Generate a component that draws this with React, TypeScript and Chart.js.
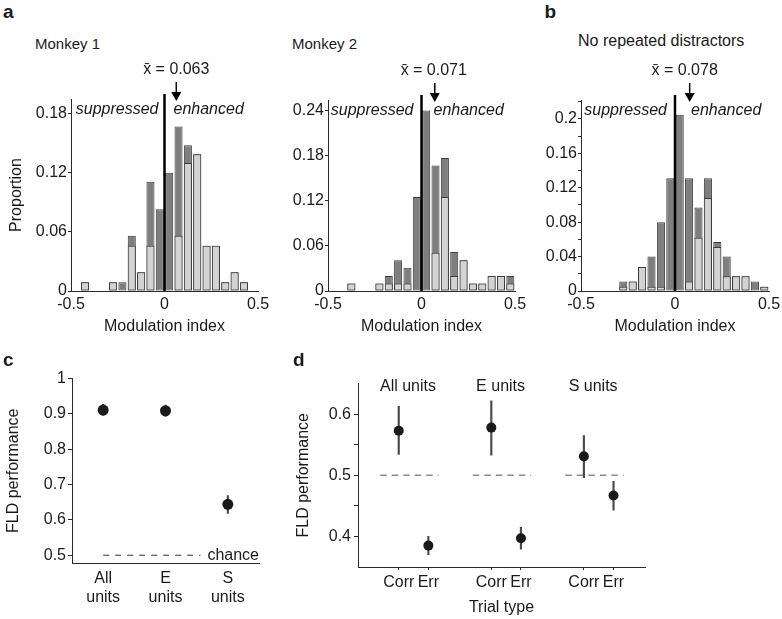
import React, { useEffect, useRef } from 'react';
import { Chart, registerables } from 'chart.js';

Chart.register(...registerables);

const FONT = '"Liberation Sans", Arial, Helvetica, sans-serif';
Chart.defaults.font.family = FONT;
Chart.defaults.font.size = 16;
Chart.defaults.color = '#1a1a1a';

// ---------------- data ----------------
// histogram bin centres (bin width 0.05)
const binCenters = [-0.475, -0.425, -0.375, -0.325, -0.275, -0.225, -0.175, -0.125, -0.075, -0.025,
  0.025, 0.075, 0.125, 0.175, 0.225, 0.275, 0.325, 0.375, 0.425, 0.475];
const histXTicks = [-0.5, 0, 0.5];

// Monkey 1
const m1Total = [null, 0.009, null, null, 0.009, 0.009, 0.056, 0.019, 0.111, 0.083,
  0.120, 0.167, 0.148, 0.139, 0.046, 0.046, 0.009, 0.019, 0.009, null];
const m1Light = [null, 0.009, null, null, 0.009, null, 0.046, 0.019, 0.046, null,
  null, 0.056, 0.130, 0.139, 0.046, 0.046, 0.009, 0.019, 0.009, null];
const m1Mean = 0.063;
const m1YTicks = [0, 0.06, 0.12, 0.18];
const m1YLabels = ['0', '0.06', '0.12', '0.18'];

// Monkey 2
const m2Total = [null, null, 0.01, null, null, 0.01, 0.02, 0.041, 0.031, 0.125,
  0.24, 0.167, 0.177, 0.052, 0.041, 0.01, 0.01, 0.02, 0.02, 0.02];
const m2Light = [null, null, 0.01, null, null, 0.01, 0.01, 0.01, 0.01, null,
  null, 0.051, 0.125, 0.02, 0.041, 0.01, 0.01, 0.02, 0.02, 0.01];
const m2Mean = 0.071;
const m2YTicks = [0, 0.06, 0.12, 0.18, 0.24];
const m2YLabels = ['0', '0.06', '0.12', '0.18', '0.24'];

// No repeated distractors
const bTotal = [null, null, null, null, 0.011, 0.011, 0.028, 0.04, 0.08, 0.131,
  0.205, 0.131, 0.097, 0.131, 0.057, 0.04, 0.017, 0.017, 0.011, 0.005];
const bLight = [null, null, null, null, 0.005, 0.011, 0.028, 0.005, 0.005, null,
  null, 0.011, 0.062, 0.108, 0.051, 0.017, 0.017, 0.017, null, 0.005];
const bMean = 0.078;
const bYTicks = [0, 0.02, 0.04, 0.06, 0.08, 0.1, 0.12, 0.14, 0.16, 0.18, 0.2, 0.22];
const bYLabels = ['0', '', '0.04', '', '0.08', '', '0.12', '', '0.16', '', '0.2', ''];

// Panel c
const cCategories = [['All', 'units'], ['E', 'units'], ['S', 'units']];
const cMean = [0.911, 0.909, 0.644];
const cLow = [0.896, 0.893, 0.618];
const cHigh = [0.927, 0.925, 0.669];
const cYTicks = [0.5, 0.6, 0.7, 0.8, 0.9, 1];
const cYLabels = ['0.5', '0.6', '0.7', '0.8', '0.9', '1'];
const chanceLevel = 0.5;

// Panel d
const dGroups = ['All units', 'E units', 'S units'];
const dGroupX = [1, 2, 3];
const dX = [0.84, 1.16, 1.84, 2.16, 2.84, 3.16];
const dTrialLabels = ['Corr', 'Err', 'Corr', 'Err', 'Corr', 'Err'];
const dMean = [0.573, 0.385, 0.578, 0.397, 0.531, 0.467];
const dLow = [0.534, 0.370, 0.533, 0.379, 0.496, 0.443];
const dHigh = [0.613, 0.400, 0.622, 0.415, 0.565, 0.490];
const dYTicks = [0.4, 0.45, 0.5, 0.55, 0.6];
const dYLabels = ['0.4', '', '0.5', '', '0.6'];

// ---------------- styles ----------------
const DARK = '#7e7e7e';
const LIGHT = '#d3d3d3';
const EDGE = '#3c3c3c';
const AXIS = '#2a2a2a';
const PT = '#1a1a1a';
const ERR = '#4a4a4a';
const NONE = 'rgba(0,0,0,0)';

// ---------------- plugins ----------------
const histDecor = {
  id: 'histDecor',
  afterDatasetsDraw(chart: any, _args: any, o: any) {
    const { ctx, chartArea, scales } = chart;
    const x = scales.x;
    const top = chartArea.top;
    const x0 = x.getPixelForValue(0);
    ctx.save();
    ctx.strokeStyle = '#000';
    ctx.lineWidth = 2.5;
    ctx.beginPath();
    ctx.moveTo(x0, top - 5);
    ctx.lineTo(x0, chartArea.bottom);
    ctx.stroke();

    const xm = x.getPixelForValue(o.mean);
    ctx.lineWidth = 1.5;
    ctx.beginPath();
    ctx.moveTo(xm, top - 17);
    ctx.lineTo(xm, top - 6);
    ctx.stroke();
    ctx.fillStyle = '#000';
    ctx.beginPath();
    ctx.moveTo(xm - 5, top - 7);
    ctx.lineTo(xm + 5, top - 7);
    ctx.lineTo(xm, top + 2);
    ctx.closePath();
    ctx.fill();

    ctx.font = `16px ${FONT}`;
    ctx.textAlign = 'center';
    ctx.textBaseline = 'alphabetic';
    ctx.fillStyle = '#1a1a1a';
    ctx.fillText(`x\u0304 = ${o.mean.toFixed(3)}`, xm + o.textShift, top - 25);

    ctx.font = `italic 16px ${FONT}`;
    ctx.textAlign = 'right';
    ctx.fillText('suppressed', x0 - o.gapL, 114.5 - o.areaTop + top);
    ctx.textAlign = 'left';
    ctx.fillText('enhanced', x0 + o.gapR, 114.5 - o.areaTop + top);
    ctx.restore();
  },
};

const chanceDecorC = {
  id: 'chanceDecorC',
  beforeDatasetsDraw(chart: any) {
    const { ctx, chartArea, scales } = chart;
    const y = scales.y.getPixelForValue(chanceLevel);
    ctx.save();
    ctx.font = `16px ${FONT}`;
    const tw = ctx.measureText('chance').width;
    const xStart = scales.x.getPixelForValue(0);
    const xEnd = chartArea.right - tw - 7;
    ctx.strokeStyle = '#333';
    ctx.lineWidth = 1;
    ctx.setLineDash([6, 6]);
    ctx.beginPath();
    ctx.moveTo(xStart, y);
    ctx.lineTo(xEnd, y);
    ctx.stroke();
    ctx.setLineDash([]);
    ctx.fillStyle = '#1a1a1a';
    ctx.textAlign = 'right';
    ctx.textBaseline = 'alphabetic';
    ctx.fillText('chance', chartArea.right, y + 5);
    ctx.restore();
  },
};

const chanceDecorD = {
  id: 'chanceDecorD',
  beforeDatasetsDraw(chart: any) {
    const { ctx, chartArea, scales } = chart;
    const y = scales.y.getPixelForValue(chanceLevel);
    ctx.save();
    ctx.strokeStyle = '#8a8a8a';
    ctx.lineWidth = 1.5;
    ctx.setLineDash([6.5, 5]);
    dGroupX.forEach((g) => {
      ctx.beginPath();
      ctx.moveTo(scales.x.getPixelForValue(g - 0.36), y);
      ctx.lineTo(scales.x.getPixelForValue(g + 0.27), y);
      ctx.stroke();
    });
    ctx.setLineDash([]);
    ctx.font = `16px ${FONT}`;
    ctx.fillStyle = '#1a1a1a';
    ctx.textAlign = 'center';
    ctx.textBaseline = 'alphabetic';
    dGroupX.forEach((g, i) => {
      ctx.fillText(dGroups[i], scales.x.getPixelForValue(g - 0.06), chartArea.top + 7.5);
    });
    ctx.restore();
  },
};

// ---------------- configs ----------------
type HistOpts = {
  total: (number | null)[];
  light: (number | null)[];
  yMax: number;
  yTicks: number[];
  yLabels: string[];
  mean: number;
  gapL: number;
  gapR: number;
  textShift: number;
  yTitle?: string;
  yW: number;
  padTop: number;
  padRight: number;
  xH: number;
  areaTop: number;
};

function histConfig(h: HistOpts): any {
  const barCommon = {
    borderColor: EDGE,
    borderWidth: 1,
    borderSkipped: false,
    grouped: false,
    categoryPercentage: 1,
    barPercentage: 0.86,
  };
  return {
    type: 'bar',
    data: {
      datasets: [
        {
          label: 'light',
          data: binCenters.map((c, i) => ({ x: c, y: h.light[i] })),
          backgroundColor: LIGHT,
          order: 1,
          ...barCommon,
        },
        {
          label: 'total',
          data: binCenters.map((c, i) => ({ x: c, y: h.total[i] })),
          backgroundColor: DARK,
          order: 2,
          ...barCommon,
        },
      ],
    },
    options: {
      responsive: false,
      animation: false,
      devicePixelRatio: 1,
      events: [],
      layout: { padding: { top: h.padTop, right: h.padRight, left: 0, bottom: 0 } },
      plugins: {
        legend: { display: false },
        tooltip: { enabled: false },
        histDecor: { mean: h.mean, gapL: h.gapL, gapR: h.gapR, textShift: h.textShift, areaTop: h.padTop + 0 === h.padTop ? 100 : 100 },
      },
      scales: {
        x: {
          type: 'linear',
          min: -0.5,
          max: 0.5,
          offset: false,
          grid: { drawOnChartArea: false, offset: false, tickLength: 4, tickColor: NONE },
          border: { color: AXIS, width: 1 },
          ticks: { padding: 0, maxRotation: 0, autoSkip: false, callback: (v: number) => String(v) },
          afterBuildTicks: (s: any) => { s.ticks = histXTicks.map((v) => ({ value: v })); },
          afterFit: (s: any) => { s.height = h.xH; },
          title: { display: true, text: 'Modulation index', padding: { top: 0, bottom: 4.4 } },
        },
        y: {
          type: 'linear',
          min: 0,
          max: h.yMax,
          grid: { drawOnChartArea: false, tickLength: 3, tickColor: AXIS },
          border: { color: AXIS, width: 1 },
          ticks: { padding: 1, autoSkip: false, callback: (_v: number, i: number) => h.yLabels[i] },
          afterBuildTicks: (s: any) => { s.ticks = h.yTicks.map((v) => ({ value: v })); },
          afterFit: (s: any) => { s.width = h.yW; },
          title: h.yTitle
            ? { display: true, text: h.yTitle, padding: { top: 7, bottom: 0 } }
            : { display: false },
        },
      },
    },
    plugins: [histDecor],
  };
}

function panelCConfig(): any {
  return {
    type: 'bar',
    data: {
      labels: cCategories,
      datasets: [
        {
          type: 'line',
          label: 'FLD performance',
          data: cMean,
          showLine: false,
          pointRadius: 5.5,
          pointBackgroundColor: PT,
          pointBorderColor: PT,
          pointBorderWidth: 0,
          order: 0,
        },
        {
          type: 'bar',
          label: 'error',
          data: cLow.map((lo, i) => [lo, cHigh[i]]),
          backgroundColor: ERR,
          barThickness: 1.5,
          order: 1,
        },
      ],
    },
    options: {
      responsive: false,
      animation: false,
      devicePixelRatio: 1,
      events: [],
      layout: { padding: { top: 10, right: 10, left: 0, bottom: 0 } },
      plugins: { legend: { display: false }, tooltip: { enabled: false } },
      scales: {
        x: {
          type: 'category',
          offset: true,
          grid: { drawOnChartArea: false, offset: true, tickLength: 4, tickColor: NONE },
          border: { color: AXIS, width: 1 },
          ticks: { padding: 2, maxRotation: 0, autoSkip: false },
          afterFit: (s: any) => { s.height = 56; },
        },
        y: {
          type: 'linear',
          min: 0.478,
          max: 1,
          grid: { drawOnChartArea: false, tickLength: 4, tickColor: AXIS },
          border: { color: AXIS, width: 1 },
          ticks: { padding: 2, autoSkip: false, callback: (_v: number, i: number) => cYLabels[i] },
          afterBuildTicks: (s: any) => { s.ticks = cYTicks.map((v) => ({ value: v })); },
          afterFit: (s: any) => { s.width = 72; },
          title: { display: true, text: 'FLD performance', padding: { top: 3.7, bottom: 0 } },
        },
      },
    },
    plugins: [chanceDecorC],
  };
}

function panelDConfig(): any {
  return {
    type: 'scatter',
    data: {
      datasets: [
        {
          type: 'scatter',
          label: 'FLD performance',
          data: dX.map((x, i) => ({ x, y: dMean[i] })),
          pointRadius: 5,
          pointBackgroundColor: PT,
          pointBorderColor: PT,
          pointBorderWidth: 0,
          order: 0,
        },
        {
          type: 'bar',
          label: 'error',
          data: dX.map((x, i) => ({ x, y: [dLow[i], dHigh[i]] })),
          backgroundColor: ERR,
          barThickness: 1.5,
          order: 1,
        },
      ],
    },
    options: {
      responsive: false,
      animation: false,
      devicePixelRatio: 1,
      events: [],
      layout: { padding: { top: 10, right: 12, left: 0, bottom: 0 } },
      plugins: { legend: { display: false }, tooltip: { enabled: false } },
      scales: {
        x: {
          type: 'linear',
          min: 0.4,
          max: 3.5,
          offset: false,
          grid: { drawOnChartArea: false, offset: false, tickLength: 3, tickColor: AXIS },
          border: { color: AXIS, width: 1 },
          ticks: { padding: 3, maxRotation: 0, autoSkip: false, callback: (_v: number, i: number) => dTrialLabels[i] },
          afterBuildTicks: (s: any) => { s.ticks = dX.map((v) => ({ value: v })); },
          afterFit: (s: any) => { s.height = 52; },
          title: { display: true, text: 'Trial type', padding: { top: 0, bottom: 2.1 } },
        },
        y: {
          type: 'linear',
          min: 0.35,
          max: 0.65,
          grid: { drawOnChartArea: false, tickLength: 4, tickColor: AXIS },
          border: { color: AXIS, width: 1 },
          ticks: { padding: 3, autoSkip: false, callback: (_v: number, i: number) => dYLabels[i] },
          afterBuildTicks: (s: any) => { s.ticks = dYTicks.map((v) => ({ value: v })); },
          afterFit: (s: any) => { s.width = 65; },
          title: { display: true, text: 'FLD performance', padding: { top: 0.7, bottom: 0 } },
        },
      },
    },
    plugins: [chanceDecorD],
  };
}

// ---------------- components ----------------
function ChartBox({ left, top, width, height, make }: { left: number; top: number; width: number; height: number; make: () => any }) {
  const ref = useRef<HTMLCanvasElement>(null);
  useEffect(() => {
    const chart = new Chart(ref.current as HTMLCanvasElement, make());
    return () => chart.destroy();
  }, []);
  return (
    <canvas
      ref={ref}
      width={width}
      height={height}
      style={{ position: 'absolute', left, top, width, height }}
    />
  );
}

function Txt({ x, baseline, size = 16, bold = false, children }: { x: number; baseline: number; size?: number; bold?: boolean; children: React.ReactNode }) {
  return (
    <div
      style={{
        position: 'absolute',
        left: x,
        top: baseline - 0.8465 * size,
        fontFamily: FONT,
        fontSize: size,
        fontWeight: bold ? 700 : 400,
        lineHeight: `${size}px`,
        whiteSpace: 'nowrap',
        color: '#1a1a1a',
      }}
    >
      {children}
    </div>
  );
}

export default function App() {
  return (
    <div style={{ position: 'absolute', left: 0, top: 0, width: 782, height: 619, background: '#fff', overflow: 'hidden' }}>
      <ChartBox
        left={0} top={55} width={274} height={286}
        make={() => histConfig({ total: m1Total, light: m1Light, yMax: 0.195, yTicks: m1YTicks, yLabels: m1YLabels, mean: m1Mean, gapL: 6, gapR: 9, textShift: 0, yTitle: 'Proportion', yW: 71, padTop: 44, padRight: 16, xH: 50, areaTop: 99 })}
      />
      <ChartBox
        left={278} top={55} width={253} height={286}
        make={() => histConfig({ total: m2Total, light: m2Light, yMax: 0.254, yTicks: m2YTicks, yLabels: m2YLabels, mean: m2Mean, gapL: 8, gapR: 12, textShift: -1, yW: 50, padTop: 45, padRight: 16, xH: 50, areaTop: 100 })}
      />
      <ChartBox
        left={531} top={55} width={251} height={286}
        make={() => histConfig({ total: bTotal, light: bLight, yMax: 0.222, yTicks: bYTicks, yLabels: bYLabels, mean: bMean, gapL: 8, gapR: 16, textShift: -5, yW: 50, padTop: 45, padRight: 13, xH: 50, areaTop: 100 })}
      />
      <ChartBox left={0} top={367} width={269} height={252} make={panelCConfig} />
      <ChartBox left={293} top={371} width={364} height={248} make={panelDConfig} />

      <Txt x={3} baseline={18.3} size={19} bold>a</Txt>
      <Txt x={544.5} baseline={18.3} size={19} bold>b</Txt>
      <Txt x={3} baseline={366} size={19} bold>c</Txt>
      <Txt x={293} baseline={366} size={19} bold>d</Txt>

      <Txt x={35} baseline={49} size={15}>Monkey 1</Txt>
      <Txt x={292} baseline={49} size={15}>Monkey 2</Txt>
      <Txt x={578} baseline={47} size={16}>No repeated distractors</Txt>
    </div>
  );
}
